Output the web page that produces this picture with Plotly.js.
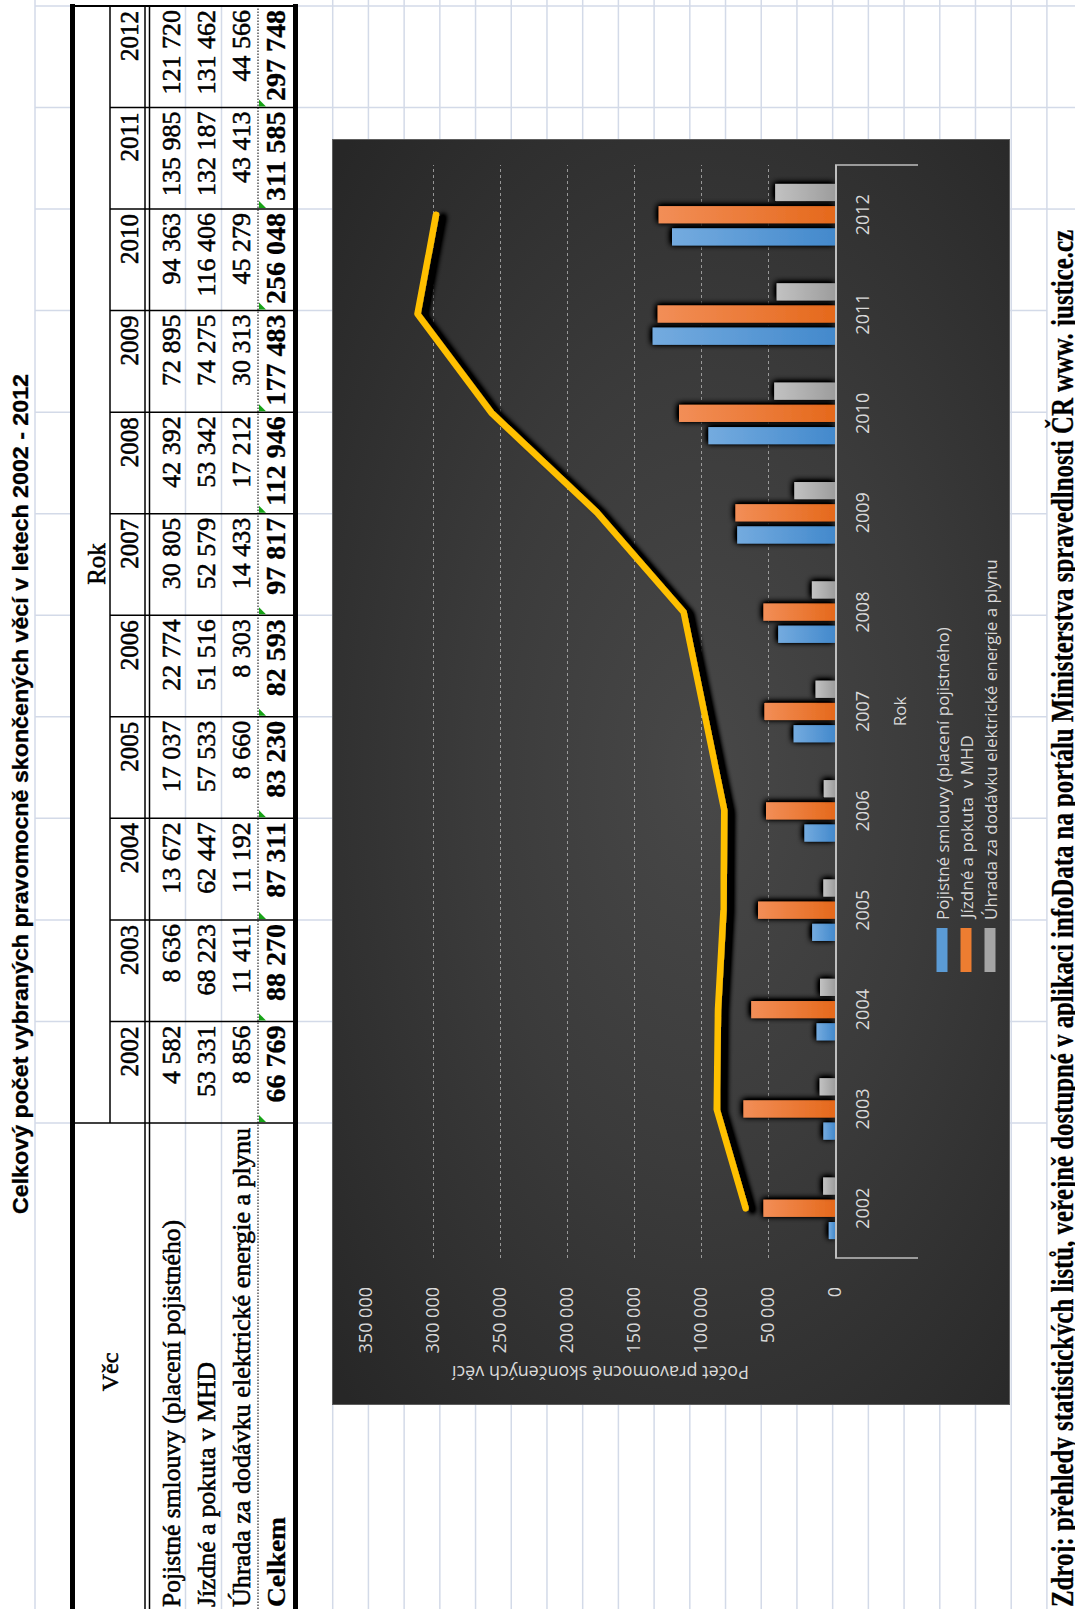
<!DOCTYPE html>
<html><head><meta charset="utf-8">
<script src="https://cdn.plot.ly/plotly-3.0.1.min.js"></script>
<style>
html,body{margin:0;padding:0;width:1075px;height:1609px;overflow:hidden;background:#fff;}
#page{position:absolute;left:0;top:0;width:1609px;height:1075px;transform-origin:0 0;transform:translate(0,1609px) rotate(-90deg);background:#fff;overflow:hidden;}
#sheet{position:absolute;left:0;top:0;}
#chartwrap{position:absolute;left:204px;top:332px;width:1264px;height:676px;border:1px solid #5e5e5e;
  background:radial-gradient(ellipse 70% 75% at 50% 55%, #484848 0%, #3b3b3b 45%, #272727 100%);}
#chart{position:absolute;left:0;top:0;width:1264px;height:676px;}
</style></head>
<body>
<svg width="0" height="0" style="position:absolute;left:0;top:0">
<defs>
 <linearGradient id="gBlue" x1="0" y1="0" x2="0" y2="1"><stop offset="0" stop-color="#74abdf"/><stop offset="1" stop-color="#4389cc"/></linearGradient>
 <linearGradient id="gOrange" x1="0" y1="0" x2="0" y2="1"><stop offset="0" stop-color="#f28e57"/><stop offset="1" stop-color="#e5691c"/></linearGradient>
 <linearGradient id="gGray" x1="0" y1="0" x2="0" y2="1"><stop offset="0" stop-color="#c2c2c2"/><stop offset="1" stop-color="#9d9d9d"/></linearGradient>
 <filter id="shBar" x="-30%" y="-10%" width="160%" height="120%">
   <feGaussianBlur in="SourceAlpha" stdDeviation="3" result="b"/>
   <feOffset in="b" dx="1" dy="-1" result="o"/>
   <feComponentTransfer in="o" result="a"><feFuncA type="linear" slope="2.2"/></feComponentTransfer>
   <feMerge><feMergeNode in="a"/><feMergeNode in="SourceGraphic"/></feMerge>
 </filter>
 <filter id="shLine" x="-10%" y="-10%" width="120%" height="130%">
   <feGaussianBlur in="SourceAlpha" stdDeviation="2.5" result="b"/>
   <feOffset in="b" dx="-2" dy="7" result="o"/>
   <feComponentTransfer in="o" result="a"><feFuncA type="linear" slope="1.8"/></feComponentTransfer>
   <feMerge><feMergeNode in="a"/><feMergeNode in="SourceGraphic"/></feMerge>
 </filter>
</defs></svg>
<div id="page">
 <svg id="sheet" width="1609" height="1075"></svg>
 <div id="chartwrap"><div id="chart"></div></div>
</div>
<script>
// ---------- data ----------
const years = ['2002','2003','2004','2005','2006','2007','2008','2009','2010','2011','2012'];
const pojistne = [4582, 8636, 13672, 17037, 22774, 30805, 42392, 72895, 94363, 135985, 121720];
const jizdne   = [53331, 68223, 62447, 57533, 51516, 52579, 53342, 74275, 116406, 132187, 131462];
const uhrada   = [8856, 11411, 11192, 8660, 8303, 14433, 17212, 30313, 45279, 43413, 44566];
const celkem   = [66769, 88270, 87311, 83230, 82593, 97817, 112946, 177483, 256048, 311585, 297748];
const rowLabels = ['Pojistné smlouvy (placení pojistného)', 'Jízdné a pokuta v MHD', 'Úhrada za dodávku elektrické energie a plynu', 'Celkem'];
const seriesNames = ['Pojistné smlouvy (placení pojistného)', 'Jízdné a pokuta \u00a0v MHD', 'Úhrada za dodávku elektrické energie a plynu'];
const seriesColors = ['#5b9bd5', '#ed7d31', '#a5a5a5'];
const tableTitle = 'Celkový počet vybraných pravomocně skončených věcí v letech 2002 - 2012';
const headVec = 'Věc', headRok = 'Rok';
const xTitle = 'Rok', yTitle = 'Počet pravomocně skončených věcí';
const sourceText = 'Zdroj: přehledy statistických listů, veřejně dostupné v aplikaci infoData na portálu Ministerstva spravedlnosti ČR www. justice.cz';

// ---------- spreadsheet + table (unrotated page coords) ----------
const fmt = n => String(n).replace(/\B(?=(\d{3})+(?!\d))/g, ' ');
const GRID = '#d3dae8';
const colB = []; for (let i = 0; i <= 11; i++) colB.push(486 + i * 101.55);
let s = '';
const ln = (x1,y1,x2,y2,c,w,dash) => { s += `<line x1="${x1}" y1="${y1}" x2="${x2}" y2="${y2}" stroke="${c}" stroke-width="${w}"${dash ? ` stroke-dasharray="${dash}"` : ''}/>`; };
const tx = (x,y,str,size,opt={}) => {
  const sw = opt.bold ? 0.3 : 0.55;
  s += `<text x="${x}" y="${y}" font-family="${opt.family||'Liberation Serif'}" font-size="${size}" font-weight="${opt.bold?'bold':'normal'}" text-anchor="${opt.anchor||'start'}" fill="#000" stroke="#000" stroke-width="${sw}"${opt.len?` textLength="${opt.len}" lengthAdjust="spacingAndGlyphs"`:''}>${str}</text>`;
};
// grid rows
const gridRows = [35]; for (let k = 1; k <= 22; k++) gridRows.push(297 + k * 35.71);
gridRows.forEach(v => ln(0, v, 1609, v, GRID, 1.5));
// grid columns
colB.forEach(c => {
  ln(c, 35, c, 70, GRID, 1.5);
  ln(c, 297, c, 1047, GRID, 1.5);
  if (c > 1395) ln(c, 1047, c, 1075, GRID, 1.5);
});
// faint gridlines in data rows
ln(-12, 185.5, 1603, 185.5, GRID, 1.5);
ln(-12, 221.5, 1603, 221.5, GRID, 1.5);
// table borders
ln(-12, 72.5, 1605, 72.5, '#000', 5);
ln(-12, 295.5, 1605, 295.5, '#000', 5);
ln(1603, 70, 1603, 298, '#000', 2);
ln(486, 110, 1603, 110, '#000', 1.5);
ln(-12, 145, 1603, 145, '#000', 1.5);
ln(-12, 149.5, 1603, 149.5, '#000', 1.5);
ln(-12, 258, 1603, 258, '#000', 1, '1.5,1.5');
ln(486, 75, 486, 293, '#000', 1.5);
for (let i = 1; i < 11; i++) ln(colB[i], 110, colB[i], 293, '#000', 1.5);
// green error triangles
for (let i = 0; i < 11; i++) { const c = colB[i] + 1; s += `<polygon points="${c},259 ${c+7},259 ${c},266" fill="#17a317"/>`; }
// texts
tx(815, 28, tableTitle, 22, {family:'Liberation Sans', bold:true, anchor:'middle', len:840});
tx(237, 118, headVec, 24, {anchor:'middle'});
tx(1045, 105, headRok, 25, {anchor:'middle'});
years.forEach((y,i) => tx(colB[i+1]-5, 138, y, 25, {anchor:'end'}));
const baseL = [180, 215, 250, 285];
const rows = [pojistne, jizdne, uhrada, celkem];
const labLen = [387, 245, 479, 90];
rows.forEach((r, ri) => {
  tx(2, baseL[ri], rowLabels[ri], 25, {bold: ri === 3, len: labLen[ri]});
  r.forEach((v, i) => tx(colB[i+1]-4, baseL[ri], fmt(v), ri === 3 ? 28 : 26, {anchor:'end', bold: ri === 3}));
});
tx(2, 1073, sourceText, 31, {bold:true, len:1377});
document.getElementById('sheet').innerHTML = s;

// ---------- chart ----------
const CX = 205, CY = 333;            // chart origin on page
const CW = 1264, CH = 676;
const PLOT_L = 351, PLOT_R = 1444, PLOT_T = 366, PLOT_B = 835;
const ML = PLOT_L - CX, MR = CX + CW - PLOT_R, MT = PLOT_T - CY, MB = CY + CH - PLOT_B;
const PW = PLOT_R - PLOT_L, PH = PLOT_B - PLOT_T;
const px = u => (u - PLOT_L) / PW;
const py = v => (PLOT_B - v) / PH;

const traces = [
  {type:'bar', name:seriesNames[0], x:years, y:pojistne, marker:{color:seriesColors[0]}},
  {type:'bar', name:seriesNames[1], x:years, y:jizdne, marker:{color:seriesColors[1]}},
  {type:'bar', name:seriesNames[2], x:years, y:uhrada, marker:{color:seriesColors[2]}},
  {type:'scatter', mode:'lines', name:rowLabels[3], x:years, y:celkem, line:{color:'#ffc000', width:6.5}}
];
const legV = [942, 966, 990];
const shapes = [
  {type:'line', xref:'paper', yref:'paper', x0:0, x1:0, y0:0, y1:py(918), line:{color:'#bfbfbf', width:1.5}},
  {type:'line', xref:'paper', yref:'paper', x0:1, x1:1, y0:0, y1:py(918), line:{color:'#bfbfbf', width:1.5}}
];
const annotations = [];
seriesNames.forEach((n, i) => {
  shapes.push({type:'rect', xref:'paper', yref:'paper', x0:px(637), x1:px(681), y0:py(legV[i]-5.5), y1:py(legV[i]+5.5), fillcolor:seriesColors[i], line:{width:0}});
  annotations.push({xref:'paper', yref:'paper', x:px(687), y:py(legV[i]), xanchor:'left', yanchor:'middle', text:n, showarrow:false, font:{size:17, color:'#d9d9d9'}});
});
const layout = {
  width:CW, height:CH, margin:{l:ML, r:MR, t:MT, b:MB},
  paper_bgcolor:'rgba(0,0,0,0)', plot_bgcolor:'rgba(0,0,0,0)',
  showlegend:false, barmode:'group', bargap:0.33, bargroupgap:0.23,
  separators:', ',
  font:{family:'Open Sans, sans-serif', color:'#d9d9d9'},
  xaxis:{type:'category', showgrid:false, showline:true, linecolor:'#bfbfbf', linewidth:1.5, ticks:'', zeroline:false,
         tickfont:{size:18, color:'#d9d9d9'}, ticklabelstandoff:11,
         title:{text:xTitle, font:{size:17, color:'#d9d9d9'}, standoff:21}},
  yaxis:{range:[0,350000], dtick:50000, tickformat:',d', showline:false, zeroline:false,
         gridcolor:'rgba(220,220,220,0.6)', griddash:'dot', gridwidth:1, ticks:'',
         tickfont:{size:18, color:'#d9d9d9'}, ticklabelstandoff:28,
         title:{text:yTitle, font:{size:18, color:'#d9d9d9'}, standoff:7}},
  shapes, annotations
};
Plotly.newPlot('chart', traces, layout, {staticPlot:true, displayModeBar:false}).then(gd => {
  const grads = ['gBlue','gOrange','gGray'];
  gd.querySelectorAll('.barlayer .trace').forEach((t, i) => {
    t.querySelectorAll('path').forEach(p => { p.style.fill = `url(#${grads[i]})`; });
    t.setAttribute('filter', 'url(#shBar)');
  });
  gd.querySelectorAll('.scatterlayer .trace .js-line').forEach(p => {
    p.setAttribute('filter', 'url(#shLine)');
    p.style.strokeLinecap = 'round'; p.style.strokeLinejoin = 'round';
  });
});
</script>
</body></html>
